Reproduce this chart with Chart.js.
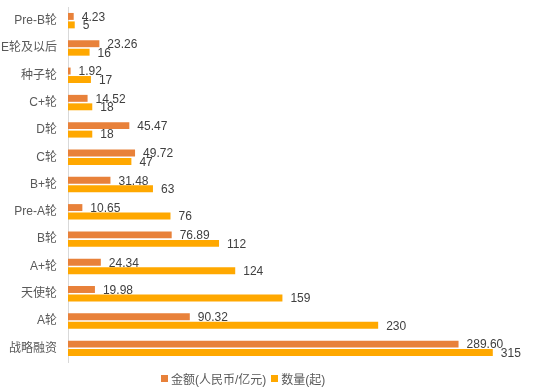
<!DOCTYPE html>
<html>
<head>
<meta charset="utf-8">
<script src="https://cdn.jsdelivr.net/npm/chart.js@4"></script>
<style>
  html, body { margin: 0; padding: 0; background: #fff; }
  #wrap { position: relative; width: 542px; height: 388px; }
  #legend {
    position: absolute; left: 161px; top: 370px;
    display: flex; gap: 5px;
    font: 12px "Liberation Sans", "Noto Sans CJK SC", sans-serif; color: #595959;
  }
  #legend span.item { display: flex; align-items: center; }
  #legend i { display: inline-block; width: 7px; height: 7px; margin-right: 3px; }
</style>
</head>
<body>
<div id="wrap"><canvas id="round-chart"></canvas><div id="legend"></div></div>
<script>
const rounds = ['Pre-B轮', 'E轮及以后', '种子轮', 'C+轮', 'D轮', 'C轮', 'B+轮', 'Pre-A轮', 'B轮', 'A+轮', '天使轮', 'A轮', '战略融资'];
const amounts = [4.23, 23.26, 1.92, 14.52, 45.47, 49.72, 31.48, 10.65, 76.89, 24.34, 19.98, 90.32, 289.60];
const counts = [5, 16, 17, 18, 18, 47, 63, 76, 112, 124, 159, 230, 315];

const fontFamily = '"Liberation Sans", "Noto Sans CJK SC", sans-serif';

// draws the value right after each bar
const barLabels = {
    id: 'barLabels',
    afterDatasetsDraw(chart) {
        const ctx = chart.ctx;
        ctx.save();
        ctx.font = '12px ' + fontFamily;
        ctx.fillStyle = '#404040';
        ctx.textBaseline = 'middle';
        chart.data.datasets.forEach((ds, i) => {
            chart.getDatasetMeta(i).data.forEach((bar, j) => {
                const v = ds.data[j];
                const txt = i === 0 ? v.toFixed(2) : String(v);
                ctx.fillText(txt, bar.x + 8, bar.y + 1);
            });
        });
        ctx.restore();
    }
};

const chart = new Chart(document.getElementById('round-chart'), {
    type: 'bar',
    data: {
        labels: rounds,
        datasets: [
            {
                label: '金额(人民币/亿元)',
                data: amounts,
                backgroundColor: '#E8813A',
                categoryPercentage: 0.62,
                barPercentage: 0.82
            },
            {
                label: '数量(起)',
                data: counts,
                backgroundColor: '#FFA800',
                categoryPercentage: 0.62,
                barPercentage: 0.82
            }
        ]
    },
    options: {
        indexAxis: 'y',
        responsive: true,
        maintainAspectRatio: false,
        animation: false,
        layout: { padding: { top: 7, right: 2, left: 0, bottom: 26 } },
        scales: {
            x: {
                display: false,
                min: 0,
                max: 350
            },
            y: {
                grid: { display: false },
                border: { display: true, color: '#D9D9D9' },
                ticks: {
                    color: '#595959',
                    font: { size: 12, family: fontFamily },
                    padding: 3
                },
                afterFit: scale => {
                    scale.width = 68;
                    scale.paddingTop = 0;
                    scale.paddingBottom = 0;
                }
            }
        },
        plugins: {
            legend: { display: false },
            tooltip: { enabled: false }
        }
    },
    plugins: [barLabels]
});

// legend underneath, built from the datasets
document.getElementById('legend').innerHTML = chart.data.datasets
    .map(ds => `<span class="item"><i style="background:${ds.backgroundColor}"></i>${ds.label}</span>`)
    .join('');
</script>
</body>
</html>
